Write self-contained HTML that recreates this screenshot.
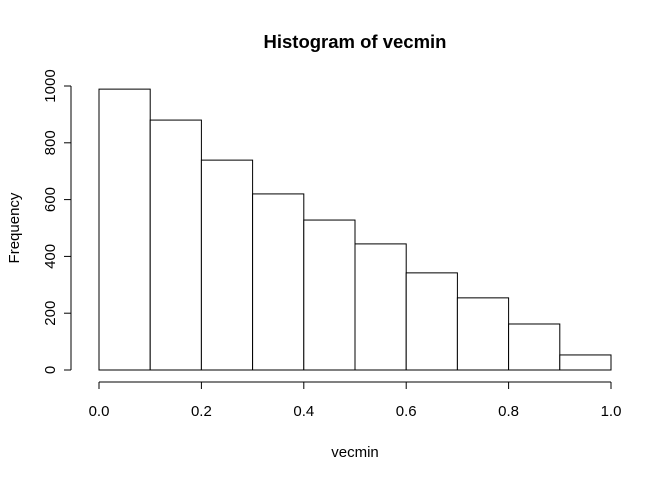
<!DOCTYPE html>
<html><head><meta charset="utf-8"><style>
html,body{margin:0;padding:0;background:#fff;}
svg{display:block;font-family:"Liberation Sans",Arial,sans-serif;}
</style></head><body>
<svg id="chart" width="672" height="480" viewBox="0 0 672 480">
<text x="355" y="48" text-anchor="middle" font-size="18.5" font-weight="bold">Histogram of vecmin</text>
<text x="355" y="457" text-anchor="middle" font-size="15">vecmin</text>
<text transform="translate(19,228) rotate(-90)" text-anchor="middle" font-size="15">Frequency</text>
<g id="bars"></g><g id="xaxis"></g><g id="yaxis"></g>
</svg>
<script>
const binStarts = [0.0,0.1,0.2,0.3,0.4,0.5,0.6,0.7,0.8,0.9];
const binWidth = 0.1;
const counts = [989,880,739,620,528,444,342,254,162,53];
const xTicks = [0,0.2,0.4,0.6,0.8,1.0];
const xTickLabels = ["0.0","0.2","0.4","0.6","0.8","1.0"];
const yTicks = [0,200,400,600,800,1000];
const yTickLabels = ["0","200","400","600","800","1000"];

const NS="http://www.w3.org/2000/svg";
const sx=v=>99+v*512;
const sy=v=>370-v*0.284;
function mk(tag,attrs,parent){const e=document.createElementNS(NS,tag);for(const k in attrs)e.setAttribute(k,attrs[k]);parent.appendChild(e);return e;}
const bars=document.getElementById('bars');
binStarts.forEach((b,i)=>{
  const r=mk('rect',{x:sx(b),y:sy(counts[i]),width:sx(b+binWidth)-sx(b),height:sy(0)-sy(counts[i]),fill:'#fff',stroke:'#000','stroke-width':1},bars);
  
  
});
const xa=document.getElementById('xaxis');
const xl=mk('line',{x1:sx(xTicks[0]),x2:sx(xTicks[xTicks.length-1]),y1:382,y2:382,stroke:'#000'},xa);


xTicks.forEach((t,i)=>{
  mk('line',{x1:sx(t),x2:sx(t),y1:382,y2:389,stroke:'#000'},xa);
  const tx=mk('text',{x:sx(t),y:416,'text-anchor':'middle','font-size':15},xa);
  tx.textContent=xTickLabels[i];
  
  
});
const ya=document.getElementById('yaxis');
const yl=mk('line',{x1:71,x2:71,y1:sy(yTicks[0]),y2:sy(yTicks[yTicks.length-1]),stroke:'#000'},ya);


yTicks.forEach((t,i)=>{
  mk('line',{x1:64,x2:71,y1:sy(t),y2:sy(t),stroke:'#000'},ya);
  const tx=mk('text',{transform:`translate(55,${sy(t)}) rotate(-90)`,'text-anchor':'middle','font-size':15},ya);
  tx.textContent=yTickLabels[i];
  
  
});
</script>
</body></html>
